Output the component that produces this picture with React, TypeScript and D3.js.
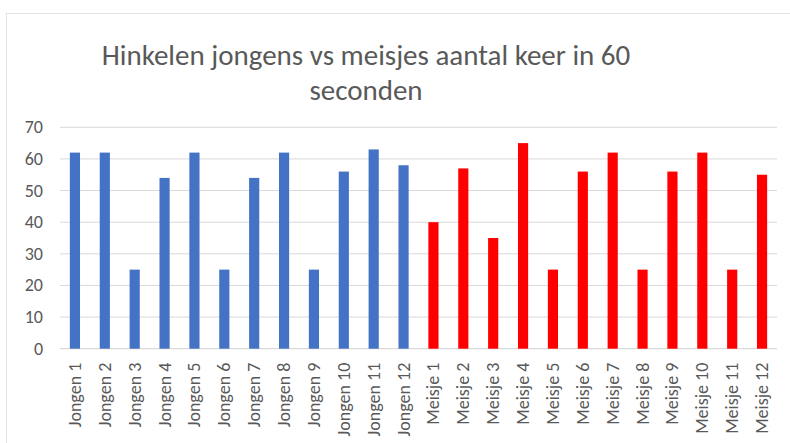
import React, { useEffect, useRef } from 'react';
import * as d3 from 'd3';

const boys = ['Jongen 1', 'Jongen 2', 'Jongen 3', 'Jongen 4', 'Jongen 5', 'Jongen 6', 'Jongen 7', 'Jongen 8', 'Jongen 9', 'Jongen 10', 'Jongen 11', 'Jongen 12'];
const girls = ['Meisje 1', 'Meisje 2', 'Meisje 3', 'Meisje 4', 'Meisje 5', 'Meisje 6', 'Meisje 7', 'Meisje 8', 'Meisje 9', 'Meisje 10', 'Meisje 11', 'Meisje 12'];
const boyValues = [62, 62, 25, 54, 62, 25, 54, 62, 25, 56, 63, 58];
const girlValues = [40, 57, 35, 65, 25, 56, 62, 25, 56, 62, 25, 55];
const yTicks = [0, 10, 20, 30, 40, 50, 60, 70];
const titleLines = ['Hinkelen jongens vs meisjes aantal keer in 60', 'seconden'];

export default function App() {
  const svgRef = useRef<SVGSVGElement>(null);

  useEffect(() => {
    const svg = d3.select(svgRef.current);
    svg.selectAll('*').remove();

    const left = 60, right = 777, top = 127.3, bottom = 348.7;
    const font = 'Carlito, "Open Sans", sans-serif';

    const data = [
      ...boys.map((c, i) => ({ cat: c, v: boyValues[i], color: '#4472c4' })),
      ...girls.map((c, i) => ({ cat: c, v: girlValues[i], color: '#ff0000' })),
    ];

    const x = d3.scaleBand().domain(data.map(d => d.cat)).range([left, right]).paddingInner(0.66).paddingOuter(0.33);
    const y = d3.scaleLinear().domain([0, 70]).range([bottom, top]);

    // chart border
    svg.append('rect')
      .attr('x', 6.5).attr('y', 13.5)
      .attr('width', 800).attr('height', 440)
      .attr('fill', '#fff').attr('stroke', '#e3e3e3');

    // title
    svg.append('g').selectAll('text')
      .data(titleLines)
      .enter().append('text')
      .attr('x', 366)
      .attr('y', (d, i) => 65 + i * 35)
      .attr('text-anchor', 'middle')
      .attr('font-family', font)
      .attr('font-size', 29)
      .attr('fill', '#595959')
      .text(d => d);

    // gridlines
    svg.append('g').selectAll('line')
      .data(yTicks)
      .enter().append('line')
      .attr('x1', left).attr('x2', right)
      .attr('y1', d => y(d)).attr('y2', d => y(d))
      .attr('stroke', d => d === 0 ? '#d0d0d0' : '#d9d9d9')
      .attr('stroke-width', 1);

    // y labels
    svg.append('g').selectAll('text')
      .data(yTicks)
      .enter().append('text')
      .attr('x', 43)
      .attr('y', d => y(d) + 6)
      .attr('text-anchor', 'end')
      .attr('font-family', font)
      .attr('font-size', 18)
      .attr('fill', '#595959')
      .text(d => d);

    // bars
    svg.append('g').selectAll('rect')
      .data(data)
      .enter().append('rect')
      .attr('x', d => x(d.cat)!)
      .attr('width', x.bandwidth())
      .attr('y', d => y(d.v))
      .attr('height', d => y(0) - y(d.v))
      .attr('fill', d => d.color);

    // x labels
    svg.append('g').selectAll('text')
      .data(data)
      .enter().append('text')
      .attr('transform', d => `translate(${x(d.cat)! + x.bandwidth() / 2 + 6},${bottom + 14}) rotate(-90)`)
      .attr('text-anchor', 'end')
      .attr('font-family', font)
      .attr('font-size', 18)
      .attr('fill', '#595959')
      .text(d => d.cat);
  }, []);

  return (
    <svg ref={svgRef} width={790} height={443} style={{ position: 'absolute', left: 0, top: 0 }}></svg>
  );
}
